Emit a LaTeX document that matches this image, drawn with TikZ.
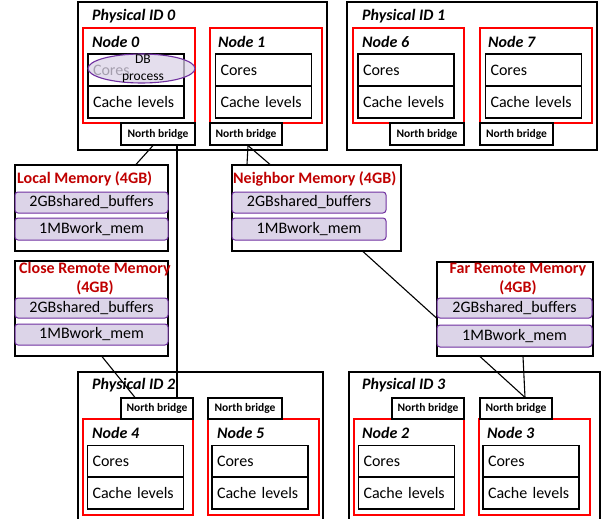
\documentclass[tikz,border=0pt]{standalone}
\usepackage{fontspec}
\setmainfont{Carlito}
\usetikzlibrary{shapes.geometric}

\definecolor{memred}{HTML}{C00000}
\definecolor{barline}{HTML}{7030A0}
\definecolor{barfill}{HTML}{DCD4E8}

\tikzset{
  phys/.style={draw, line width=1.1pt, fill=white},
  numa/.style={draw=red, line width=1.1pt},
  unitbox/.style={draw, line width=1.1pt, text width=86pt, inner xsep=5pt, minimum height=32pt, align=left, font=\fontsize{16}{19}\selectfont},
  nbbox/.style={draw, line width=1.1pt, fill=white, inner sep=0pt, font=\fontsize{11.5}{13}\selectfont\bfseries},
  mem/.style={draw, line width=1.1pt, fill=white},
  membar/.style={draw=barline, fill=barfill, line width=1pt, rounded corners=3pt, inner sep=0pt, font=\fontsize{16}{19}\selectfont},
  memtitle/.style={text=memred, inner sep=0pt, align=center, font=\fontsize{16}{19}\selectfont\bfseries},
  boxlabel/.style={anchor=west, inner sep=0pt, font=\fontsize{16}{19}\selectfont\bfseries\itshape},
  conn/.style={line width=1.1pt}
}

\begin{document}
\begin{tikzpicture}[x=1pt,y=-1pt]
   \useasboundingbox (0,0) rectangle (605,519);
   \clip (0,0) rectangle (605,519);

   % physical packages
   \node (phys0) at (202.5,76) [phys, minimum width=249, minimum height=148] {};
   \node (phys1) at (472,76) [phys, minimum width=250, minimum height=148] {};
   \node (phys2) at (200.5,447) [phys, minimum width=245, minimum height=150] {};
   \node (phys3) at (474.5,447) [phys, minimum width=251, minimum height=150] {};

   \node (phys0lbl) at (92,16) [boxlabel] {Physical ID 0};
   \node (phys1lbl) at (362,16) [boxlabel] {Physical ID 1};
   \node (phys2lbl) at (92,385) [boxlabel] {Physical ID 2};
   \node (phys3lbl) at (362,385) [boxlabel] {Physical ID 3};

   % NUMA nodes
   \node (numa0) at (139,75.5) [numa, minimum width=112, minimum height=95] {};
   \node (numa1) at (266,75.5) [numa, minimum width=112, minimum height=95] {};
   \node (numa6) at (408.5,75.5) [numa, minimum width=111, minimum height=95] {};
   \node (numa7) at (536,75.5) [numa, minimum width=112, minimum height=95] {};
   \node (numa4) at (138,467) [numa, minimum width=110, minimum height=96] {};
   \node (numa5) at (263.5,467) [numa, minimum width=111, minimum height=96] {};
   \node (numa2) at (409,467) [numa, minimum width=110, minimum height=96] {};
   \node (numa3) at (534.5,467) [numa, minimum width=111, minimum height=96] {};

   \node (numa0lbl) at (92,42) [boxlabel] {Node 0};
   \node (numa1lbl) at (218,42) [boxlabel] {Node 1};
   \node (numa6lbl) at (362,42) [boxlabel] {Node 6};
   \node (numa7lbl) at (488,42) [boxlabel] {Node 7};
   \node (numa4lbl) at (92,433) [boxlabel] {Node 4};
   \node (numa5lbl) at (217,433) [boxlabel] {Node 5};
   \node (numa2lbl) at (362,433) [boxlabel] {Node 2};
   \node (numa3lbl) at (487,433) [boxlabel] {Node 3};

   % cores and caches
   \node (cores0) at (136,70) [unitbox] {Cores};
   \node (cache0) at (136,102) [unitbox] {Cache levels};
   \node (cores1) at (263.5,70) [unitbox] {Cores};
   \node (cache1) at (263.5,102) [unitbox] {Cache levels};
   \node (cores6) at (406,70) [unitbox] {Cores};
   \node (cache6) at (406,102) [unitbox] {Cache levels};
   \node (cores7) at (533.5,70) [unitbox] {Cores};
   \node (cache7) at (533.5,102) [unitbox] {Cache levels};
   \node (cores4) at (135.5,461.5) [unitbox] {Cores};
   \node (cache4) at (135.5,493) [unitbox] {Cache levels};
   \node (cores5) at (260,461.5) [unitbox] {Cores};
   \node (cache5) at (260,493) [unitbox] {Cache levels};
   \node (cores2) at (406.5,461.5) [unitbox] {Cores};
   \node (cache2) at (406.5,493) [unitbox] {Cache levels};
   \node (cores3) at (531,461.5) [unitbox] {Cores};
   \node (cache3) at (531,493) [unitbox] {Cache levels};

   % DB process
   \node (dbproc) at (141.5,68.5) [ellipse, draw=barline, line width=1.1pt, fill=barfill, fill opacity=0.75, minimum width=107, minimum height=29, inner sep=0pt] {};
   \node (dbproclbl) at (143,68.5) [align=center, inner sep=0pt, font=\fontsize{13.5}{17}\selectfont] {DB\\process};

   % north bridges
   \node (nb0) at (158,134) [nbbox, minimum width=74, minimum height=22] {North bridge};
   \node (nb1) at (246,134) [nbbox, minimum width=72, minimum height=22] {North bridge};
   \node (nb6) at (427,134) [nbbox, minimum width=74, minimum height=22] {North bridge};
   \node (nb7) at (516.5,134) [nbbox, minimum width=73, minimum height=22] {North bridge};
   \node (nb4) at (157,408.5) [nbbox, minimum width=72, minimum height=21] {North bridge};
   \node (nb5) at (245,408.5) [nbbox, minimum width=74, minimum height=21] {North bridge};
   \node (nb2) at (428,408.5) [nbbox, minimum width=72, minimum height=21] {North bridge};
   \node (nb3) at (516,408.5) [nbbox, minimum width=72, minimum height=21] {North bridge};

   % memories
   \node (localmem) at (91.5,208) [mem, minimum width=153, minimum height=86] {};
   \node (closemem) at (91.5,308.5) [mem, minimum width=153, minimum height=95] {};
   \node (neighmem) at (316.5,208) [mem, minimum width=169, minimum height=86] {};
   \node (farmem) at (515,309) [mem, minimum width=156, minimum height=94] {};

   \node (localttl) at (17,179) [memtitle, anchor=west] {Local Memory (4GB)};
   \node (closettl) at (95,278.5) [memtitle] {Close Remote Memory\\(4GB)};
   \node (neighttl) at (233,179) [memtitle, anchor=west] {Neighbor Memory (4GB)};
   \node (farttl) at (518,279) [memtitle] {Far Remote Memory\\(4GB)};

   \node (localbuf) at (91.5,202.5) [membar, minimum width=153, minimum height=21] {2GBshared\_buffers};
   \node (localwork) at (91.5,229) [membar, minimum width=153, minimum height=22] {1MBwork\_mem};
   \node (closebuf) at (91.5,308) [membar, minimum width=153, minimum height=20] {2GBshared\_buffers};
   \node (closework) at (91.5,334.5) [membar, minimum width=153, minimum height=21] {1MBwork\_mem};
   \node (neighbuf) at (309,202.5) [membar, minimum width=154, minimum height=21] {2GBshared\_buffers};
   \node (neighwork) at (309,229) [membar, minimum width=154, minimum height=22] {1MBwork\_mem};
   \node (farbuf) at (514.5,308) [membar, minimum width=155, minimum height=20] {2GBshared\_buffers};
   \node (farwork) at (514.5,336) [membar, minimum width=155, minimum height=22] {1MBwork\_mem};

   % links
   \draw [conn] ([xshift=-5pt]nb0.south) -- ([xshift=44.5pt]localmem.north);
   \draw [conn] ([xshift=19pt]nb0.south) -- ([xshift=20pt]nb4.north);
   \draw [conn] ([xshift=10.5pt]closemem.south) -- ([xshift=-22pt]nb4.north);
   \draw [conn] ([xshift=2pt]nb1.south) -- ([xshift=-69.5pt]neighmem.north);
   \draw [conn] ([xshift=2pt]nb1.south) -- ([xshift=-46.5pt]neighmem.north);
   \draw [conn] ([xshift=46.5pt]neighmem.south) -- ([yshift=-9pt]farmem.west);
   \draw [conn] ([xshift=-35pt]farmem.south) -- ([xshift=9pt]nb3.north);
   \draw [conn] ([xshift=8pt]farmem.south) -- ([xshift=9pt]nb3.north);

\end{tikzpicture}
\end{document}
